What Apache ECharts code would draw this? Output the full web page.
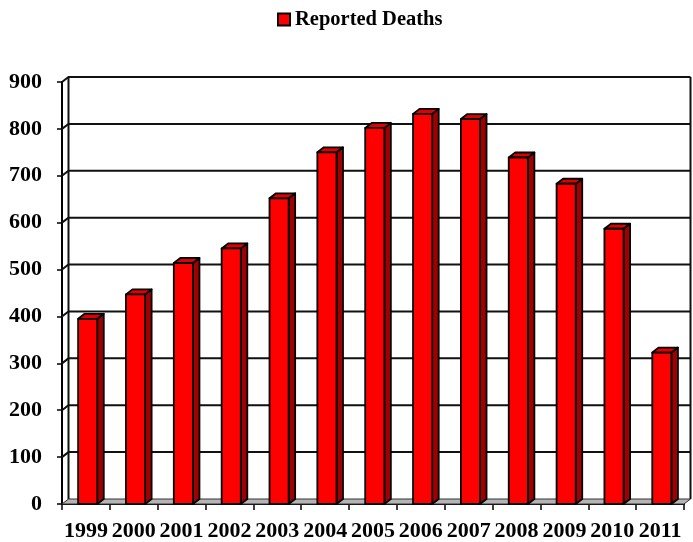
<!DOCTYPE html>
<html>
<head>
<meta charset="utf-8">
<title>Reported Deaths</title>
<script src="https://cdn.jsdelivr.net/npm/echarts@6/dist/echarts.min.js"></script>
<style>
	html, body { margin: 0; padding: 0; background: #fff; }
	#chart { width: 693px; height: 542px; }
</style>
</head>
<body>
<div id="chart"></div>
<script>
var years = ['1999', '2000', '2001', '2002', '2003', '2004', '2005', '2006', '2007', '2008', '2009', '2010', '2011'];
var deaths = [395, 447, 514, 545, 652, 750, 802, 832, 821, 739, 683, 587, 323];
var yTicks = [0, 100, 200, 300, 400, 500, 600, 700, 800, 900];

var _fig = {

	depthX : 6.5,
	depthY : 5,
	font : 'Liberation Serif, Times New Roman, serif',

	/**
	 * back wall, side wall, floor and grid lines
	 */
	renderWall : function(params, api) {
		var cs = params.coordSys;
		var dx = _fig.depthX, dy = _fig.depthY;
		var v = api.value(1);
		var y = api.coord([0, v])[1];
		var y0 = api.coord([0, 0])[1];
		var left = cs.x, right = cs.x + cs.width;
		var line = { stroke : '#111', lineWidth : 2, fill : null };
		var children = [];

		if (v == 0) {
			// floor
			children.push({
				type : 'polygon',
				shape : { points : [[left, y], [right, y], [right + dx, y - dy], [left + dx, y - dy]] },
				style : { fill : '#b4b4b4', stroke : '#333', lineWidth : 1 }
			});
		} else {
			children.push({
				type : 'polyline',
				shape : { points : [[left, y], [left + dx, y - dy], [right + dx, y - dy]] },
				style : line
			});
		}
		if (v == yTicks[yTicks.length - 1]) {
			children.push({
				type : 'line',
				shape : { x1 : left + dx, y1 : y - dy, x2 : left + dx, y2 : y0 - dy },
				style : line
			});
			children.push({
				type : 'line',
				shape : { x1 : right + dx, y1 : y - dy, x2 : right + dx, y2 : y0 - dy },
				style : line
			});
		}
		return { type : 'group', children : children };
	},

	/**
	 * 3d looking column
	 */
	renderBar : function(params, api) {
		var dx = _fig.depthX, dy = _fig.depthY;
		var top = api.coord([api.value(0), api.value(1)]);
		var base = api.coord([api.value(0), 0]);
		var bw = api.size([1, 0])[0];
		var w = bw * 0.4;
		var x0 = top[0] - bw * 0.163;
		var x1 = x0 + w;
		var edge = { stroke : '#000', lineWidth : 1.8, lineJoin : 'round' };
		return {
			type : 'group',
			children : [{
				type : 'polygon',
				shape : { points : [[x1, top[1]], [x1 + dx, top[1] - dy], [x1 + dx, base[1] - dy], [x1, base[1]]] },
				style : Object.assign({ fill : '#a00000' }, edge)
			}, {
				type : 'polygon',
				shape : { points : [[x0, top[1]], [x0 + dx, top[1] - dy], [x1 + dx, top[1] - dy], [x1, top[1]]] },
				style : Object.assign({ fill : '#e00000' }, edge)
			}, {
				type : 'rect',
				shape : { x : x0, y : top[1], width : w, height : base[1] - top[1] },
				style : Object.assign({ fill : '#ff0000' }, edge)
			}]
		};
	}
};

var chart = echarts.init(document.getElementById('chart'));

var option = {
	backgroundColor : '#fff',
	animation : false,
	legend : {
		left : 277,
		top : 9,
		padding : 0,
		icon : 'rect',
		itemWidth : 12,
		itemHeight : 12,
		data : [{
			name : 'Reported Deaths',
			itemStyle : { color : '#ff0000', borderColor : '#000', borderWidth : 2 }
		}],
		textStyle : { fontFamily : _fig.font, fontWeight : 'bold', fontSize : 20.5, color : '#000' }
	},
	grid : {
		left : 62,
		right : 9,
		top : 82,
		bottom : 37
	},
	xAxis : {
		type : 'category',
		data : years,
		boundaryGap : true,
		axisLine : { show : true, lineStyle : { color : '#000', width : 2 } },
		axisTick : { show : true, length : 6, lineStyle : { color : '#000', width : 1.5 } },
		axisLabel : {
			interval : 0,
			margin : 16,
			fontFamily : _fig.font,
			fontWeight : 'bold',
			fontSize : 22,
			color : '#000'
		},
		splitLine : { show : false }
	},
	yAxis : {
		type : 'value',
		min : 0,
		max : 900,
		interval : 100,
		axisLine : { show : true, lineStyle : { color : '#000', width : 2 } },
		axisTick : { show : true, length : 5, lineStyle : { color : '#000', width : 1.5 } },
		axisLabel : {
			margin : 20,
			fontFamily : _fig.font,
			fontWeight : 'bold',
			fontSize : 22,
			color : '#000'
		},
		splitLine : { show : false }
	},
	series : [{
		name : 'wall',
		type : 'custom',
		renderItem : _fig.renderWall,
		encode : { x : 0, y : 1 },
		data : yTicks.map(function(v) { return [0, v]; }),
		silent : true,
		z : 1
	}, {
		name : 'Reported Deaths',
		type : 'custom',
		renderItem : _fig.renderBar,
		encode : { x : 0, y : 1 },
		itemStyle : { color : '#ff0000' },
		data : deaths.map(function(v, i) { return [i, v]; }),
		z : 2
	}]
};

chart.setOption(option);
</script>
</body>
</html>
